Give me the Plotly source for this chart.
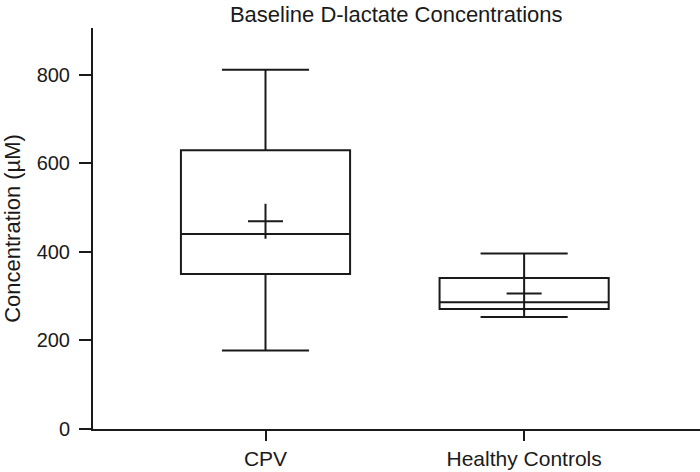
import plotly.graph_objects as go

categories = ["CPV", "Healthy Controls"]
upper_whisker = [811, 396]
q3 = [629, 341]
median = [440, 286]
q1 = [350, 271]
lower_whisker = [177, 253]
means = [469, 306]
y_ticks = [0, 200, 400, 600, 800]

font_family = "Liberation Sans, Arial, Helvetica, sans-serif"
ink = "#1a1a1a"

fig = go.Figure()
for i, cat in enumerate(categories):
    fig.add_trace(go.Box(
        x=[i], q1=[q1[i]], median=[median[i]], q3=[q3[i]],
        lowerfence=[lower_whisker[i]], upperfence=[upper_whisker[i]],
        width=0.654, whiskerwidth=0.515,
        line=dict(color=ink, width=2), fillcolor="rgba(0,0,0,0)",
        boxpoints=False, showlegend=False, hoverinfo="skip", name=cat,
    ))

fig.add_trace(go.Scatter(
    x=list(range(len(categories))), y=means, mode="markers",
    marker=dict(symbol="cross-thin", size=25, line=dict(color=ink, width=2)),
    showlegend=False, hoverinfo="skip",
))

fig.update_layout(
    width=700, height=472,
    margin=dict(l=93, r=0, t=28, b=43, autoexpand=False),
    paper_bgcolor="white", plot_bgcolor="white",
    font=dict(family=font_family, size=21, color=ink),
    title=dict(text="Baseline D-lactate Concentrations", x=0.566, xanchor="center",
               y=0.97, yanchor="middle", font=dict(size=22)),
    xaxis=dict(range=[-0.667, 1.68], tickvals=[0, 1], ticktext=categories,
               showline=True, linecolor=ink, linewidth=2, ticks="outside",
               ticklen=10, tickwidth=2, tickcolor=ink, showgrid=False,
               zeroline=False, tickfont=dict(size=21), ticklabelstandoff=0,
               automargin=False),
    yaxis=dict(range=[0, 905], tickvals=y_ticks,
               showline=True, linecolor=ink, linewidth=2, ticks="outside",
               ticklen=12, tickwidth=2, tickcolor=ink, showgrid=False,
               zeroline=False, tickfont=dict(size=20), ticklabelstandoff=5,
               automargin=False,
               title=dict(text="Concentration (µM)", font=dict(size=22), standoff=10)),
)

fig.write_html("out.html", config={"displayModeBar": False},
               post_script="document.body.style.margin='0';document.body.style.overflow='hidden';")
